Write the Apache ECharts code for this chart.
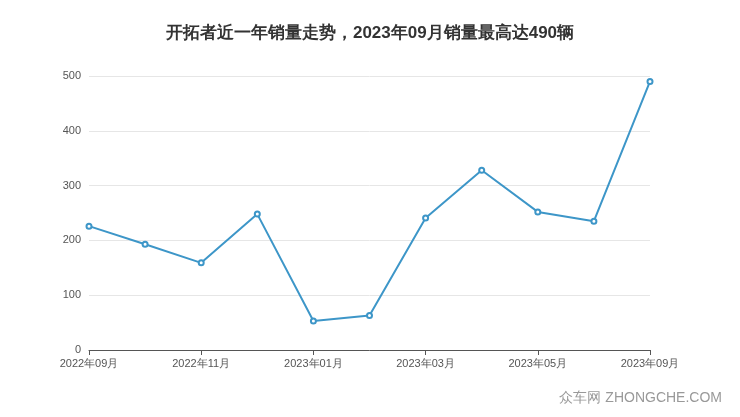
<!DOCTYPE html>
<html><head><meta charset="utf-8">
<script src="https://cdn.jsdelivr.net/npm/echarts@6/dist/echarts.min.js"></script>
<style>html,body{margin:0;padding:0;background:#fff}#c{width:740px;height:417px}</style>
</head><body><div id="c"></div>
<script>
const categories = ['2022年09月','2022年10月','2022年11月','2022年12月','2023年01月','2023年02月','2023年03月','2023年04月','2023年05月','2023年06月','2023年09月'];
const sales = [226, 193, 159, 248, 53, 63, 241, 328, 252, 235, 490];
const chart = echarts.init(document.getElementById('c'));
chart.setOption({
  animation:false,
  title:{text:'开拓者近一年销量走势，2023年09月销量最高达490辆',left:'center',top:20,textStyle:{fontSize:17,fontWeight:'bold',color:'#333'}},
  graphic:[{type:'text',right:18,bottom:12,style:{text:'众车网 ZHONGCHE.COM',fontSize:14,fill:'#999'}}],
  grid:{left:89,right:90,top:76,bottom:67},
  xAxis:{type:'category',boundaryGap:false,data:categories,
    axisLine:{lineStyle:{color:'#555'}},axisTick:{interval:1,lineStyle:{color:'#555'}},
    axisLabel:{interval:1,color:'#555',fontSize:11,formatter:v=>v.replace('月','')+'月'}},
  yAxis:{type:'value',min:0,max:500,interval:100,axisLabel:{color:'#555',fontSize:11},
    splitLine:{lineStyle:{color:'#e6e6e6'}}},
  series:[{type:'line',data:sales,symbol:'emptyCircle',symbolSize:5,
    lineStyle:{color:'#3d96c8',width:2},itemStyle:{color:'#3d96c8'}}]
});
</script></body></html>
